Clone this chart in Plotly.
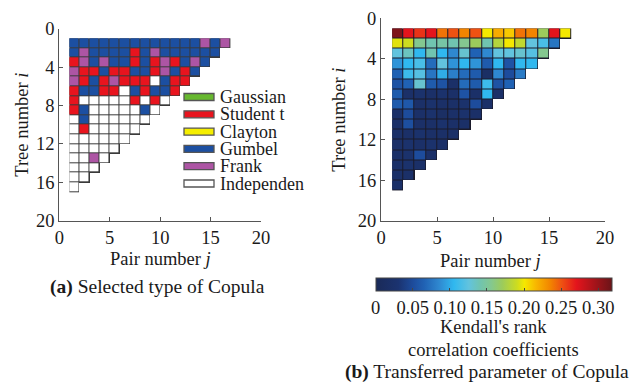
import plotly.graph_objects as go

# ---------------- data ----------------
copula_names = ["Gaussian", "Student t", "Clayton", "Gumbel", "Frank", "Independen"]
copula_codes = {"G": 0, "S": 1, "C": 2, "U": 3, "F": 4, "I": 5}
copula_colors = ["#67b82f", "#e8141e", "#f5ee00", "#1c4fa1", "#ad55a4", "#ffffff"]

# selected copula type per tree (row i) and pair (column j)
copula_rows = [
    "UUUUUUUUUUUUUFUF",
    "UFUUUUSUFUUUUUU",
    "SFUFUUSUSFSUFU",
    "FSSUSSUUSFUSU",
    "FSUSFSSSIUSS",
    "SUUSSIUSUUS",
    "SIIIIISISI",
    "SUIIIIIUI",
    "IUIIIIII",
    "ISIIIII",
    "IIIIII",
    "IIIII",
    "IIFI",
    "III",
    "II",
    "I",
]

# Kendall's tau per tree (row i) and pair (column j)
tau_rows = [
    [0.31, 0.27, 0.26, 0.27, 0.24, 0.25, 0.235, 0.25, 0.20, 0.22, 0.21, 0.24, 0.235, 0.17, 0.27, 0.20],
    [0.195, 0.19, 0.155, 0.14, 0.145, 0.14, 0.155, 0.17, 0.14, 0.18, 0.20, 0.185, 0.125, 0.115, 0.075],
    [0.125, 0.135, 0.105, 0.14, 0.105, 0.085, 0.13, 0.065, 0.085, 0.125, 0.125, 0.13, 0.12, 0.155],
    [0.09, 0.105, 0.115, 0.07, 0.125, 0.09, 0.105, 0.09, 0.06, 0.105, 0.055, 0.105, 0.105],
    [0.065, 0.11, 0.12, 0.075, 0.10, 0.08, 0.07, 0.06, 0.015, 0.085, 0.05, 0.078],
    [0.055, 0.065, 0.13, 0.06, 0.055, 0.02, 0.07, 0.06, 0.11, 0.055, 0.065],
    [0.06, 0.02, 0.025, 0.02, 0.025, 0.02, 0.055, 0.02, 0.105, 0.02],
    [0.06, 0.058, 0.02, 0.025, 0.02, 0.02, 0.025, 0.05, 0.02],
    [0.02, 0.05, 0.02, 0.025, 0.015, 0.02, 0.025, 0.02],
    [0.02, 0.052, 0.02, 0.02, 0.025, 0.02, 0.02],
    [0.02, 0.02, 0.025, 0.02, 0.02, 0.02],
    [0.02, 0.025, 0.02, 0.025, 0.02],
    [0.02, 0.025, 0.05, 0.02],
    [0.02, 0.025, 0.02],
    [0.02, 0.02],
    [0.02],
]

axis_ticks_i = [0, 4, 8, 12, 16, 20]
axis_ticks_j = [0, 5, 10, 15, 20]
cbar_ticks = [0, 0.05, 0.10, 0.15, 0.20, 0.25, 0.30]
cbar_ticktext = ["0", "0.05", "0.10", "0.15", "0.20", "0.25", "0.30"]
tau_max = 0.318

# ---------------- build matrices ----------------
n = len(copula_rows)
edges = list(range(1, n + 2))  # cell edges 1..17

z_type, z_tau, z_mask = [], [], []
for i in range(n):
    row_t, row_v, row_m = [], [], []
    for j in range(n):
        if j < len(copula_rows[i]):
            row_t.append(copula_codes[copula_rows[i][j]])
            row_v.append(tau_rows[i][j])
            row_m.append(1)
        else:
            row_t.append(None)
            row_v.append(None)
            row_m.append(None)
    z_type.append(row_t)
    z_tau.append(row_v)
    z_mask.append(row_m)

k = len(copula_colors)
disc_scale = []
for c_i, col in enumerate(copula_colors):
    disc_scale.append([c_i / k, col])
    disc_scale.append([(c_i + 1) / k, col])

tau_stops = [
    (0.000, "#1a2a58"), (0.030, "#1b3370"), (0.050, "#1d4c9c"), (0.065, "#2062b4"),
    (0.085, "#2f88d0"), (0.105, "#30b8ef"), (0.125, "#62c3de"), (0.140, "#70c4b0"),
    (0.155, "#84c890"), (0.170, "#9ccb5c"), (0.190, "#cddc20"), (0.200, "#f5e800"),
    (0.215, "#f8b800"), (0.235, "#f28400"), (0.250, "#ee5212"), (0.270, "#e4141c"),
    (0.318, "#6a1418"),
]
tau_scale = [[v / tau_max, c] for v, c in tau_stops]

W, H = 634, 383
FONT = "Liberation Serif"
TXT = "#1a1a1a"
AX = "#555555"
BORDER = "#3a3a3a"

L = dict(x0=59.3, x1=261.0, y0=28.7, y1=220.7)
R = dict(x0=381.0, x1=605.0, y0=18.3, y1=221.0)


def px(x):
    return x / W


def py(y):
    return 1 - y / H


fig = go.Figure()

fig.add_trace(go.Heatmap(x=edges, y=edges, z=z_mask, colorscale=[[0, BORDER], [1, BORDER]],
                         showscale=False, hoverinfo="skip", xaxis="x", yaxis="y"))
fig.add_trace(go.Heatmap(x=edges, y=edges, z=z_type, colorscale=disc_scale, zmin=-0.5, zmax=k - 0.5,
                         xgap=1, ygap=1, showscale=False, xaxis="x", yaxis="y"))

fig.add_trace(go.Heatmap(x=edges, y=edges, z=z_mask, colorscale=[[0, "#1a1a2a"], [1, "#1a1a2a"]],
                         showscale=False, hoverinfo="skip", xaxis="x2", yaxis="y2"))
fig.add_trace(go.Heatmap(
    x=edges, y=edges, z=z_tau, colorscale=tau_scale, zmin=0, zmax=tau_max,
    xgap=1, ygap=1, xaxis="x2", yaxis="y2",
    colorbar=dict(
        orientation="h", x=px((375.5 + 611.7) / 2), xanchor="center",
        len=(611.7 - 375.5) / W, lenmode="fraction",
        y=py(277.5), yanchor="top", thickness=13, thicknessmode="pixels",
        outlinecolor="#444444", outlinewidth=1,
        tickvals=cbar_ticks, ticktext=cbar_ticktext, ticks="inside", ticklen=3,
        tickcolor="#444444", tickfont=dict(family=FONT, size=18.5, color=TXT),
        xpad=0, ypad=0,
    ),
))

axis_common = dict(showgrid=False, zeroline=False, showline=True, linecolor=AX, linewidth=1.2,
                   ticks="inside", ticklen=4, tickcolor=AX, mirror=False,
                   tickfont=dict(family=FONT, size=18.5, color=TXT))

fig.update_layout(
    width=W, height=H, margin=dict(l=0, r=0, t=0, b=0, autoexpand=False),
    paper_bgcolor="white", plot_bgcolor="white", showlegend=False,
    xaxis=dict(domain=[px(L["x0"]), px(L["x1"])], range=[0, 20], tickvals=axis_ticks_j,
               anchor="y", automargin=False, **axis_common),
    yaxis=dict(domain=[py(L["y1"]), py(L["y0"])], range=[20, 0], tickvals=axis_ticks_i,
               anchor="x", automargin=False, **axis_common),
    xaxis2=dict(domain=[px(R["x0"]), px(R["x1"])], range=[0, 20], tickvals=axis_ticks_j,
                anchor="y2", automargin=False, **axis_common),
    yaxis2=dict(domain=[py(R["y1"]), py(R["y0"])], range=[20, 0], tickvals=axis_ticks_i,
                anchor="x2", automargin=False, **axis_common),
)

ann = []
font_title = dict(family=FONT, size=18.5, color=TXT)


def add_text(text, x, y, font, angle=0, xanchor="center"):
    ann.append(dict(text=text, x=px(x), y=py(y), xref="paper", yref="paper", textangle=angle,
                    xanchor=xanchor, yanchor="middle", showarrow=False, font=font))


add_text("Tree number <i>i</i>", 22, (L["y0"] + L["y1"]) / 2, font_title, angle=-90)
add_text("Tree number <i>i</i>", 339, (R["y0"] + R["y1"]) / 2, font_title, angle=-90)
add_text("Pair number <i>j</i>", 160, 259, font_title)
add_text("Pair number <i>j</i>", 490, 261, font_title)
add_text("<b>(a)</b> Selected type of Copula", 157, 287, dict(family=FONT, size=19.5, color=TXT))
add_text("<b>(b)</b> Transferred parameter of Copula", 487, 372, dict(family=FONT, size=19.5, color=TXT))
add_text("Kendall's rank", 493, 327, font_title)
add_text("correlation coefficients", 493, 350, font_title)

shapes = []
for idx, (name, col) in enumerate(zip(copula_names, copula_colors)):
    yc = 97 + 17.3 * idx
    shapes.append(dict(type="rect", xref="paper", yref="paper", x0=px(184), x1=px(214),
                       y0=py(yc + 3.5), y1=py(yc - 3.5), fillcolor=col,
                       line=dict(color="#555555", width=1.3)))
    add_text(name, 218, yc, dict(family=FONT, size=18, color=TXT), xanchor="left")

fig.update_layout(annotations=ann, shapes=shapes)

fig.write_html("out.html")
